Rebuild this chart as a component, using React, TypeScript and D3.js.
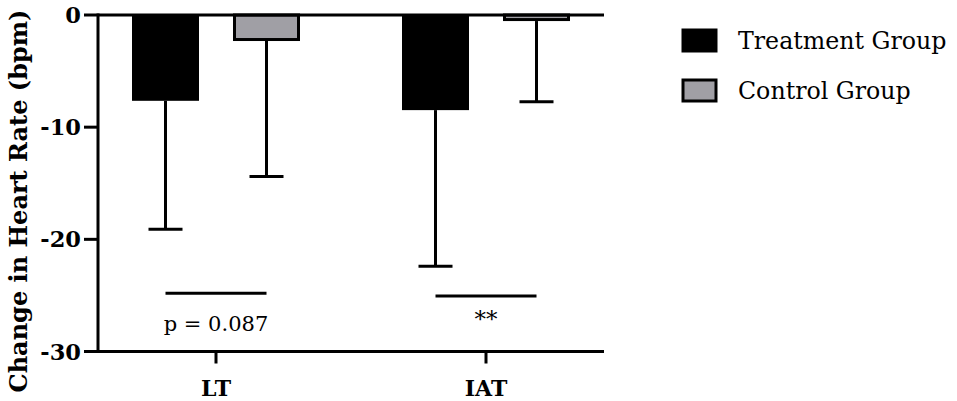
import React from 'react';
import * as d3 from 'd3';

const categories = ['LT', 'IAT'];
const seriesNames = ['Treatment Group', 'Control Group'];
const seriesColors = ['#000000', '#a09fa5'];
const treatmentMeans = [-7.65, -8.48];
const controlMeans = [-2.32, -0.54];
const treatmentErr = [11.45, 13.92];
const controlErr = [12.08, 7.2];
const yTicks = [0, -10, -20, -30];
const sigLabels = ['p = 0.087', '**'];
const sigLevels = [-24.8, -25.06];

const W = 957;
const H = 401;
const axisLeft = 98;
const axisRight = 604;
const font = '"DejaVu Serif", serif';

export default function App() {
  const y = d3.scaleLinear().domain([0, -30]).range([15, 351.5]);
  const x = d3.scaleBand<string>().domain(categories).range([81, 621]).paddingInner(0).paddingOuter(0);
  const xs = d3.scalePoint<string>().domain(seriesNames).range([-50.5, 50.5]);
  const barW = 67;
  const capW = 34;
  const sw = 3;

  const data = categories.map((c, i) => ({
    cat: c,
    bars: [
      { s: seriesNames[0], mean: treatmentMeans[i], err: treatmentErr[i], color: seriesColors[0] },
      { s: seriesNames[1], mean: controlMeans[i], err: controlErr[i], color: seriesColors[1] },
    ],
  }));

  const cx = (c: string) => (x(c) as number) + x.bandwidth() / 2;

  return (
    <svg width={W} height={H} style={{ position: 'absolute', left: 0, top: 0, background: '#fff' }}>
      <rect x={0} y={0} width={W} height={H} fill="#fff" />
      {data.map((g) =>
        g.bars.map((b) => {
          const bx = cx(g.cat) + (xs(b.s) as number);
          const y0 = y(0);
          const y1 = y(b.mean);
          const ye = y(b.mean - b.err);
          const isCtrl = b.s === seriesNames[1];
          return (
            <g key={g.cat + b.s}>
              <line x1={bx} x2={bx} y1={y1} y2={ye} stroke="#000" strokeWidth={sw} />
              <line x1={bx - capW / 2} x2={bx + capW / 2} y1={ye} y2={ye} stroke="#000" strokeWidth={sw} />
              {isCtrl ? (
                <rect
                  x={bx - barW / 2 + 1.5}
                  y={y0}
                  width={barW - 3}
                  height={Math.max(0, y1 - y0 - 1.5)}
                  fill={b.color}
                  stroke="#000"
                  strokeWidth={sw}
                />
              ) : (
                <rect x={bx - barW / 2} y={y0} width={barW} height={y1 - y0} fill={b.color} />
              )}
            </g>
          );
        })
      )}
      {/* zero line / top axis */}
      <line x1={axisLeft} x2={axisRight} y1={y(0)} y2={y(0)} stroke="#000" strokeWidth={3} />
      {/* y axis */}
      <line x1={axisLeft} x2={axisLeft} y1={y(0) - 1.5} y2={y(-30) + 1.5} stroke="#000" strokeWidth={3} />
      {yTicks.map((t) => (
        <g key={t}>
          <line x1={axisLeft - 14} x2={axisLeft} y1={y(t)} y2={y(t)} stroke="#000" strokeWidth={3} />
          <text
            x={axisLeft - 17}
            y={y(t)}
            dy="0.36em"
            textAnchor="end"
            fontFamily={font}
            fontWeight="bold"
            fontSize={22.5}
          >
            {t === 0 ? '0' : '-' + Math.abs(t)}
          </text>
        </g>
      ))}
      {/* x axis */}
      <line x1={axisLeft} x2={axisRight} y1={y(-30)} y2={y(-30)} stroke="#000" strokeWidth={3} />
      {categories.map((c) => (
        <g key={c}>
          <line x1={cx(c)} x2={cx(c)} y1={y(-30)} y2={y(-30) + 12} stroke="#000" strokeWidth={3} />
          <text x={cx(c)} y={396} textAnchor="middle" fontFamily={font} fontWeight="bold" fontSize={22}>
            {c}
          </text>
        </g>
      ))}
      {/* y axis title */}
      <text
        transform={`translate(27,201) rotate(-90)`}
        textAnchor="middle"
        fontFamily={font}
        fontWeight="bold"
        fontSize={24}
      >
        Change in Heart Rate (bpm)
      </text>
      {/* significance */}
      {categories.map((c, i) => {
        const xa = cx(c) + (xs(seriesNames[0]) as number);
        const xb = cx(c) + (xs(seriesNames[1]) as number);
        const ly = y(sigLevels[i]);
        return (
          <g key={'sig' + c}>
            <line x1={xa} x2={xb} y1={ly} y2={ly} stroke="#000" strokeWidth={3} />
            <text
              x={(xa + xb) / 2}
              y={i === 0 ? 331 : 327}
              textAnchor="middle"
              fontFamily={font}
              fontSize={i === 0 ? 21 : 23}
            >
              {sigLabels[i]}
            </text>
          </g>
        );
      })}
      {/* legend */}
      {seriesNames.map((s, i) => {
        const ly = 28.5 + i * 50;
        return (
          <g key={'leg' + s}>
            {i === 0 ? (
              <rect x={681.5} y={ly} width={36} height={24} fill={seriesColors[i]} />
            ) : (
              <rect x={683} y={ly + 1.5} width={33} height={21} fill={seriesColors[i]} stroke="#000" strokeWidth={3} />
            )}
            <text x={738} y={ly + 20.5} fontFamily={font} fontSize={23.7}>
              {s}
            </text>
          </g>
        );
      })}
    </svg>
  );
}
